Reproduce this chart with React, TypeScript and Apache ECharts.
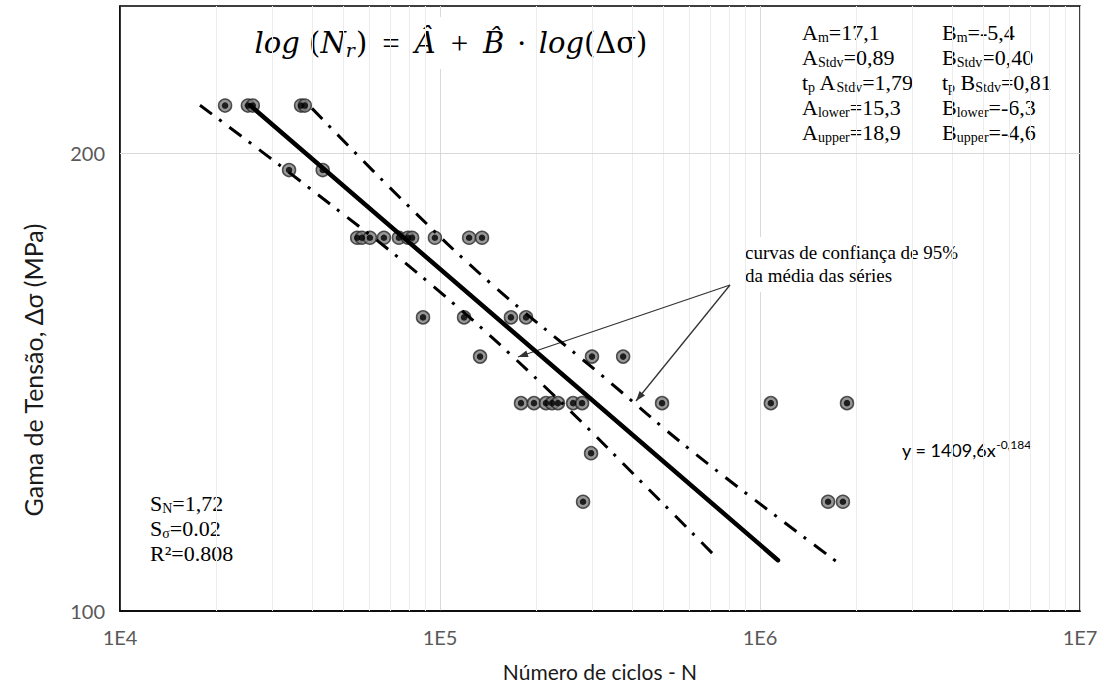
import React, { useEffect, useRef } from "react";
import * as echarts from "echarts";

// ---- data ----
const cycles = [
  21300, 25100, 26000, 36800, 37800,
  33750, 43000,
  55100, 57000, 60400, 66800, 74400, 79400, 81800, 96400, 123300, 135300,
  88500, 118900, 166600, 185700,
  133400, 298500, 373500,
  179100, 196600, 214300, 223900, 233700, 260600, 278000, 494200, 1081000, 1870000,
  296500,
  279900, 1632000, 1816000,
];
const stress = [
  215, 215, 215, 215, 215,
  195, 195,
  176, 176, 176, 176, 176, 176, 176, 176, 176, 176,
  156, 156, 156, 156,
  147, 147, 147,
  137, 137, 137, 137, 137, 137, 137, 137, 137, 137,
  127,
  118, 118, 118,
];

// mean regression line (straight in log-log)
const meanCurveN = [25490, 1138000];
const meanCurveS = [215.1, 108.0];
// 95% confidence curves of the mean
const upperCurveN = [39810, 76560, 144300, 316200, 618000, 1742000];
const upperCurveS = [214.1, 186.2, 164.2, 143.2, 127.2, 107.7];
const lowerCurveN = [17780, 37040, 96380, 219200, 487000, 722800];
const lowerCurveS = [215.1, 191.4, 163.2, 139.6, 118.2, 108.7];

const xTickLabels = ["1E4", "1E5", "1E6", "1E7"];
const yTickLabels = ["100", "200"];
const minorMultipliers = [2, 3, 4, 5, 6, 7, 8, 9];
const decades = [1e4, 1e5, 1e6];

const serif = "'Liberation Serif', 'Times New Roman', serif";
const mathSerif = "'DejaVu Serif', 'Liberation Serif', serif";
const sans = "Lato, 'Open Sans', sans-serif";

function pairs(xs: number[], ys: number[]) {
  return xs.map((x, i) => [x, ys[i]]);
}

function arrowHead(tip: number[], from: number[], len = 10, half = 3.5) {
  const dx = tip[0] - from[0];
  const dy = tip[1] - from[1];
  const d = Math.hypot(dx, dy);
  const ux = dx / d;
  const uy = dy / d;
  const bx = tip[0] - ux * len;
  const by = tip[1] - uy * len;
  return [
    [tip[0], tip[1]],
    [bx + uy * half, by - ux * half],
    [bx - uy * half, by + ux * half],
  ];
}

export default function App() {
  const ref = useRef<HTMLDivElement>(null);

  useEffect(() => {
    const chart = echarts.init(ref.current!, null, { renderer: "svg" });

    const pts = pairs(cycles, stress);
    const minorLines: any[] = [];
    decades.forEach((d) => minorMultipliers.forEach((m) => minorLines.push({ xAxis: m * d })));

    const dashDot = [15, 9, 3, 10];
    const arrowOrigin = [730, 285];
    const arrowTips = [
      [518, 357],
      [636, 401],
    ];

    const subRich = {
      n: { fontFamily: serif, fontSize: 22, lineHeight: 25, color: "#000" },
      s: { fontFamily: serif, fontSize: 14, lineHeight: 14, padding: [10, 0, 0, 0], color: "#000" },
    };

    const option: any = {
      animation: false,
      backgroundColor: "#fff",
      grid: {
        left: 120,
        right: 24,
        top: 6,
        bottom: 84,
        show: true,
        borderColor: "#000",
        borderWidth: 1.5,
        backgroundColor: "transparent",
      },
      xAxis: {
        type: "log",
        logBase: 10,
        min: 1e4,
        max: 1e7,
        axisLine: { show: true, lineStyle: { color: "#000", width: 1.5 } },
        axisTick: { show: false },
        axisLabel: {
          margin: 16,
          color: "#595959",
          fontFamily: sans,
          fontSize: 20,
          showMinLabel: true,
          showMaxLabel: true,
          formatter: (v: number) => xTickLabels[Math.round(Math.log10(v)) - 4] ?? "",
        },
        splitLine: { show: true, lineStyle: { color: "#d9d9d9", width: 1 } },
        name: "Número de ciclos - N",
        nameLocation: "middle",
        nameGap: 50,
        nameTextStyle: { fontFamily: sans, fontSize: 21, color: "#1a1a1a" },
      },
      yAxis: {
        type: "log",
        logBase: 10,
        min: 100,
        max: 250,
        axisLine: { show: true, lineStyle: { color: "#000", width: 1.5 } },
        axisTick: { show: false },
        axisLabel: {
          margin: 15,
          color: "#595959",
          fontFamily: sans,
          fontSize: 20,
          showMaxLabel: false,
          formatter: (v: number) => (Math.abs(v - 100) < 0.5 ? yTickLabels[0] : ""),
        },
        splitLine: { show: false },
      },
      graphic: [
        // white boxes behind text
        { type: "rect", z: 3, shape: { x: 225, y: 17, width: 470, height: 52 }, style: { fill: "#fff" } },
        { type: "rect", z: 3, shape: { x: 788, y: 7, width: 291, height: 153 }, style: { fill: "#fff" } },
        { type: "rect", z: 3, shape: { x: 738, y: 237, width: 240, height: 55 }, style: { fill: "#fff" } },
        { type: "rect", z: 3, shape: { x: 140, y: 488, width: 110, height: 78 }, style: { fill: "#fff" } },
        // equation
        {
          type: "text",
          z: 4,
          x: 451,
          y: 43,
          style: {
            text: "{i|log }{u|(}{i|N}{sub|r}{u|)}{o|=}{i|Â}{o|+}{i|B̂}{d|·}{i|log}{u|(Δσ)}",
            align: "center",
            verticalAlign: "middle",
            rich: {
              i: { fontFamily: mathSerif, fontStyle: "italic", fontSize: 29, lineHeight: 36, color: "#000" },
              u: { fontFamily: mathSerif, fontSize: 29, lineHeight: 36, color: "#000" },
              sub: { fontFamily: mathSerif, fontStyle: "italic", fontSize: 19, lineHeight: 19, padding: [13, 1, 0, 0], color: "#000" },
              o: { fontFamily: serif, fontSize: 31, lineHeight: 36, padding: [0, 15, 0, 15], color: "#000" },
              d: { fontFamily: serif, fontSize: 31, lineHeight: 36, padding: [0, 12, 0, 12], color: "#000" },
            },
          },
        },
        // parameter block
        {
          type: "text",
          z: 4,
          x: 802,
          y: 20,
          style: {
            text:
              "{n|A}{s|m}{n|=17,1}\n{n|A}{s|Stdv}{n|=0,89}\n{n|t}{s|p}{n| A}{s|Stdv}{n|=1,79}\n{n|A}{s|lower}{n|=15,3}\n{n|A}{s|upper}{n|=18,9}",
            verticalAlign: "top",
            rich: subRich,
          },
        },
        {
          type: "text",
          z: 4,
          x: 942,
          y: 20,
          style: {
            text:
              "{n|B}{s|m}{n|=-5,4}\n{n|B}{s|Stdv}{n|=0,40}\n{n|t}{s|p}{n| B}{s|Stdv}{n|=0,81}\n{n|B}{s|lower}{n|=-6,3}\n{n|B}{s|upper}{n|=-4,6}",
            verticalAlign: "top",
            rich: subRich,
          },
        },
        // bottom-left statistics
        {
          type: "text",
          z: 4,
          x: 150,
          y: 491,
          style: {
            text: "{n|S}{s|N}{n|=1,72}\n{n|S}{s|σ}{n|=0.02}\n{n|R²=0.808}",
            verticalAlign: "top",
            rich: subRich,
          },
        },
        // annotation
        {
          type: "text",
          z: 4,
          x: 745,
          y: 241,
          style: {
            text: "curvas de confiança de 95%\nda média das séries",
            fontFamily: serif,
            fontSize: 19,
            lineHeight: 23,
            fill: "#000",
            verticalAlign: "top",
          },
        },
        ...arrowTips.map((t) => ({
          type: "line",
          z: 6,
          shape: { x1: arrowOrigin[0], y1: arrowOrigin[1], x2: t[0], y2: t[1] },
          style: { stroke: "#333", lineWidth: 1.3 },
        })),
        ...arrowTips.map((t) => ({
          type: "polygon",
          z: 6,
          shape: { points: arrowHead(t, arrowOrigin) },
          style: { fill: "#333" },
        })),
        // trend-line equation
        {
          type: "text",
          z: 4,
          x: 902,
          y: 450,
          style: {
            text: "{a|y = 1409,6x}{b|-0,184}",
            verticalAlign: "middle",
            rich: {
              a: { fontFamily: sans, fontSize: 18, lineHeight: 22, color: "#262626" },
              b: { fontFamily: sans, fontSize: 12, lineHeight: 12, padding: [0, 0, 12, 0], color: "#262626" },
            },
          },
        },
        // y-axis title
        {
          type: "text",
          z: 4,
          x: 33,
          y: 370,
          rotation: Math.PI / 2,
          style: {
            text: "Gama de Tensão, Δσ (MPa)",
            fontFamily: sans,
            fontSize: 25,
            fill: "#1a1a1a",
            align: "center",
            verticalAlign: "middle",
          },
        },
      ],
      series: [
        {
          name: "grid",
          type: "scatter",
          z: 1,
          data: [],
          silent: true,
          markLine: {
            silent: true,
            symbol: ["none", "none"],
            animation: false,
            label: { show: false },
            lineStyle: { color: "#ececec", width: 1, type: "solid" },
            data: [
              ...minorLines,
              {
                yAxis: Number(yTickLabels[1]),
                lineStyle: { color: "#d9d9d9", width: 1, type: "solid" },
                label: {
                  show: true,
                  position: "start",
                  distance: 15,
                  formatter: yTickLabels[1],
                  color: "#595959",
                  fontFamily: sans,
                  fontSize: 20,
                },
              },
            ],
          },
        },
        {
          name: "ensaios",
          type: "scatter",
          z: 5,
          symbol: "circle",
          symbolSize: 13,
          data: pts,
          itemStyle: { color: "#7d7d7d", borderColor: "#2b2b2b", borderWidth: 1.5 },
        },
        {
          name: "ensaios-centro",
          type: "scatter",
          z: 5,
          symbol: "circle",
          symbolSize: 6.5,
          data: pts,
          itemStyle: { color: "#000" },
        },
        {
          name: "média",
          type: "line",
          z: 6,
          showSymbol: false,
          symbol: "none",
          data: pairs(meanCurveN, meanCurveS),
          lineStyle: { color: "#000", width: 4.5, cap: "round" },
        },
        {
          name: "superior",
          type: "line",
          z: 6,
          showSymbol: false,
          symbol: "none",
          smooth: 0.4,
          data: pairs(upperCurveN, upperCurveS),
          lineStyle: { color: "#000", width: 3, type: dashDot },
        },
        {
          name: "inferior",
          type: "line",
          z: 6,
          showSymbol: false,
          symbol: "none",
          smooth: 0.4,
          data: pairs(lowerCurveN, lowerCurveS),
          lineStyle: { color: "#000", width: 3, type: dashDot },
        },
      ],
    };

    chart.setOption(option);
    return () => chart.dispose();
  }, []);

  return (
    <div
      ref={ref}
      style={{ position: "fixed", left: 0, top: 0, width: 1104, height: 695, background: "#fff" }}
    />
  );
}
